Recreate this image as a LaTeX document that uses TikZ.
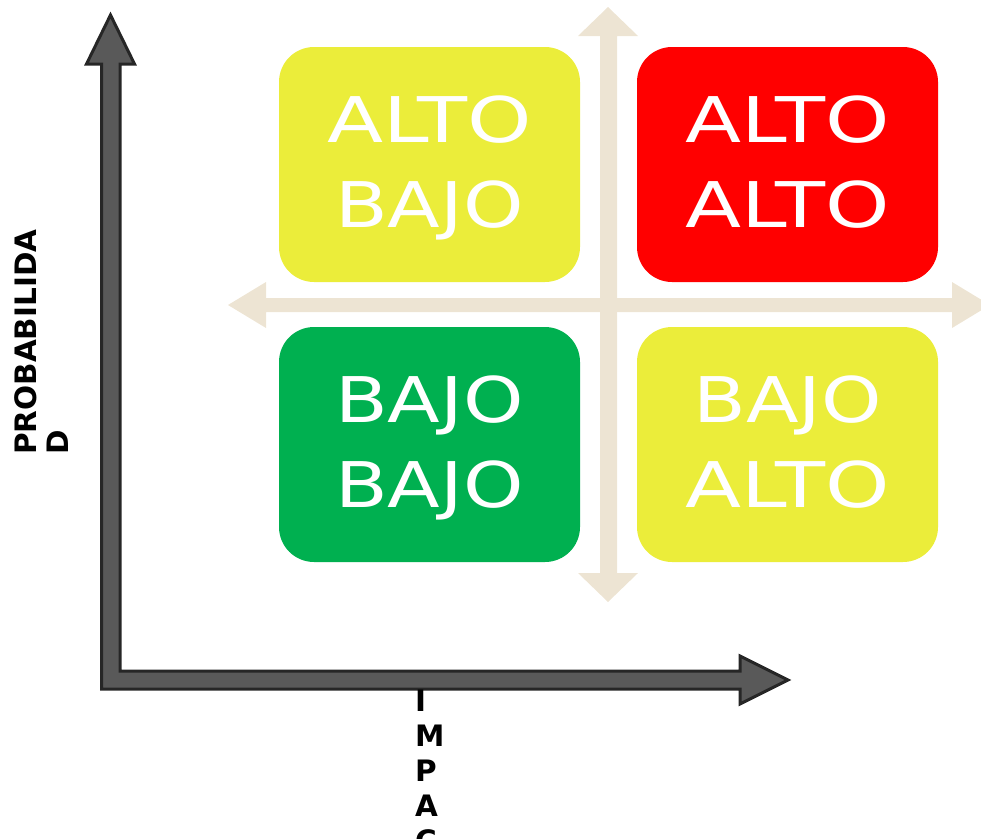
\documentclass[tikz,border=0pt]{standalone}
\usepackage{fontspec}
\setmainfont{DejaVu Sans}
\usepackage{graphicx}
\definecolor{qyellow}{HTML}{EBED3A}
\definecolor{qred}{HTML}{FF0000}
\definecolor{qgreen}{HTML}{00B050}
\definecolor{crossbeige}{HTML}{EDE4D3}
\definecolor{axisfill}{HTML}{595959}
\definecolor{axisline}{HTML}{262626}
\newcommand\altow{\scalebox{1.3}[1]{ALTO}}
\newcommand\bajow{\scalebox{1.22}[1]{BAJO}}
\begin{document}
\begin{tikzpicture}[x=1pt,y=-1pt,
  quad/.style={rounded corners=35pt, minimum width=301pt, minimum height=235pt, inner sep=0pt, draw=none},
  qtext/.style={text=white, font=\fontsize{63}{75}\selectfont, anchor=base, inner sep=0pt},
  axislabel/.style={font=\bfseries\fontsize{29.5}{32}\selectfont, inner sep=0pt, align=left},
  crossarrow/.style={fill=crossbeige, draw=none},
  axisarrow/.style={fill=axisfill, draw=axisline, line width=3pt, line join=miter}]
\useasboundingbox (0,0) rectangle (981,838);
\clip (0,0) rectangle (981,838);

% cross arrows
\fill[crossarrow] (608,7) -- (638,36) -- (617,36) -- (617,573) -- (638,573) -- (608,602)
  -- (578,573) -- (600,573) -- (600,36) -- (578,36) -- cycle;
\fill[crossarrow] (228,305) -- (266,282) -- (266,298) -- (952,298) -- (952,282) -- (990,305)
  -- (952,328) -- (952,312) -- (266,312) -- (266,328) -- cycle;

% quadrants
\node[quad, fill=qyellow] (tl) at (429.5,164.5) {};
\node[quad, fill=qred]    (tr) at (787.5,164.5) {};
\node[quad, fill=qgreen]  (bl) at (429.5,444.5) {};
\node[quad, fill=qyellow] (br) at (787.5,444.5) {};

\node[qtext] (tla) at (429.5,142) {\altow};
\node[qtext] (tlb) at (429.5,227) {\bajow};
\node[qtext] (tra) at (787.5,142) {\altow};
\node[qtext] (trb) at (787.5,227) {\altow};
\node[qtext] (bla) at (429.5,422) {\bajow};
\node[qtext] (blb) at (429.5,507) {\bajow};
\node[qtext] (bra) at (787.5,422) {\bajow};
\node[qtext] (brb) at (787.5,507) {\altow};

% axes
\filldraw[axisarrow] (110.5,15) -- (134.5,64) -- (120,64) -- (120,671) -- (740,671) -- (740,656)
  -- (788,680) -- (740,704) -- (740,689) -- (101.5,689) -- (101.5,64) -- (86.5,64) -- cycle;

\node[axislabel, rotate=90, anchor=north west] (prob) at (14,455) {PROBABILIDA\\D};
\node[axislabel, font=\bfseries\fontsize{29.5}{35}\selectfont, anchor=north west] (imp) at (415,690) {I\\M\\P\\A\\C\\T\\O};
\end{tikzpicture}
\end{document}
